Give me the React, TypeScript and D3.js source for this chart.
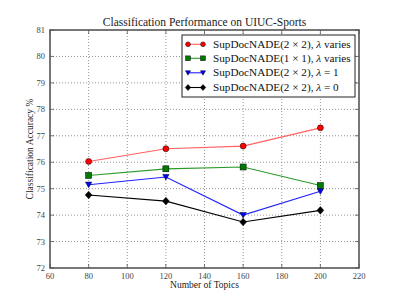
import React from "react";
import * as d3 from "d3";

const topics = [80, 120, 160, 200];
const redVals = [76.03, 76.51, 76.61, 77.3];
const greenVals = [75.5, 75.75, 75.82, 75.12];
const blueVals = [75.15, 75.44, 74.0, 74.9];
const blackVals = [74.76, 74.53, 73.74, 74.18];
const xTicks = [60, 80, 100, 120, 140, 160, 180, 200, 220];
const yTicks = [72, 73, 74, 75, 76, 77, 78, 79, 80, 81];
const legendLabels = [
  ["SupDocNADE", "(2 × 2), ", "λ", " varies"],
  ["SupDocNADE", "(1 × 1), ", "λ", " varies"],
  ["SupDocNADE", "(2 × 2), ", "λ", " = 1"],
  ["SupDocNADE", "(2 × 2), ", "λ", " = 0"],
];

const W = 399, H = 299;
const m = { l: 50, r: 359, t: 30, b: 268 };
const font = "'Liberation Serif', 'DejaVu Serif', serif";

export default function App() {
  const x = d3.scaleLinear().domain([60, 220]).range([m.l, m.r]);
  const y = d3.scaleLinear().domain([72, 81]).range([m.b, m.t]);
  const line = d3.line<number>().x((_, i) => x(topics[i])).y((d) => y(d));

  const series = [
    { vals: redVals, color: "#ff0000", stroke: "#ff6060", marker: "circle" },
    { vals: greenVals, color: "#007a00", stroke: "#2a9a2a", marker: "square" },
    { vals: blueVals, color: "#0000ff", stroke: "#2020ff", marker: "tri" },
    { vals: blackVals, color: "#000000", stroke: "#000000", marker: "diamond" },
  ];

  const marker = (kind: string, cx: number, cy: number, color: string, key: any, s = 1) => {
    const ec = "#000";
    if (kind === "circle") return <circle key={key} cx={cx} cy={cy} r={3 * s} fill={color} stroke={ec} strokeWidth={0.5} />;
    if (kind === "square") return <rect key={key} x={cx - 3 * s} y={cy - 3 * s} width={6 * s} height={6 * s} fill={color} stroke={ec} strokeWidth={0.5} />;
    if (kind === "tri") return <path key={key} d={`M${cx - 3.2 * s},${cy - 2.6 * s}L${cx + 3.2 * s},${cy - 2.6 * s}L${cx},${cy + 3 * s}Z`} fill={color} stroke={ec} strokeWidth={0.5} />;
    return <path key={key} d={`M${cx},${cy - 3.8 * s}L${cx + 3.4 * s},${cy}L${cx},${cy + 3.8 * s}L${cx - 3.4 * s},${cy}Z`} fill={color} stroke={ec} strokeWidth={0.5} />;
  };

  const legY = [44.3, 58.3, 72.8, 87.5];

  return (
    <svg width={W} height={H} style={{ position: "absolute", left: 0, top: 0, background: "#fff" }} fontFamily={font}>
      <rect width={W} height={H} fill="#fff" />
      {xTicks.slice(1, -1).map((t) => (
        <line key={"gx" + t} x1={x(t)} x2={x(t)} y1={m.t} y2={m.b} stroke="#777" strokeWidth={0.8} strokeDasharray="1,2" />
      ))}
      {yTicks.slice(1, -1).map((t) => (
        <line key={"gy" + t} x1={m.l} x2={m.r} y1={y(t)} y2={y(t)} stroke="#777" strokeWidth={0.8} strokeDasharray="1,2" />
      ))}
      {xTicks.map((t) => (
        <g key={"tx" + t}>
          <line x1={x(t)} x2={x(t)} y1={m.b} y2={m.b - 4} stroke="#555" strokeWidth={0.8} />
          <line x1={x(t)} x2={x(t)} y1={m.t} y2={m.t + 4} stroke="#555" strokeWidth={0.8} />
        </g>
      ))}
      {yTicks.map((t) => (
        <g key={"ty" + t}>
          <line x1={m.l} x2={m.l + 4} y1={y(t)} y2={y(t)} stroke="#555" strokeWidth={0.8} />
          <line x1={m.r} x2={m.r - 4} y1={y(t)} y2={y(t)} stroke="#555" strokeWidth={0.8} />
        </g>
      ))}
      {series.map((s, si) => (
        <g key={"s" + si}>
          <path d={line(s.vals) || ""} fill="none" stroke={s.stroke} strokeWidth={1.1} />
          {s.vals.map((v, i) => marker(s.marker, x(topics[i]), y(v), s.color, i))}
        </g>
      ))}
      <rect x={m.l} y={m.t} width={m.r - m.l} height={m.b - m.t} fill="none" stroke="#555" strokeWidth={1.6} />
      {xTicks.map((t) => (
        <text key={"lx" + t} x={x(t)} y={m.b + 11} textAnchor="middle" fontSize={8.5} fill="#444">{t}</text>
      ))}
      {yTicks.map((t) => (
        <text key={"ly" + t} x={m.l - 5} y={y(t) + 3} textAnchor="end" fontSize={8.5} fill="#444">{t}</text>
      ))}
      <text x={(m.l + m.r) / 2} y={26} textAnchor="middle" fontSize={11.5} fill="#222">Classification Performance on UIUC-Sports</text>
      <text x={(m.l + m.r) / 2} y={288} textAnchor="middle" fontSize={9.5} fill="#222">Number of Topics</text>
      <text transform={`translate(33,${(m.t + m.b) / 2}) rotate(-90)`} textAnchor="middle" fontSize={9.5} fill="#222">Classification Accuracy %</text>
      <rect x={182} y={35} width={173} height={62} fill="#fff" stroke="#222" strokeWidth={1} />
      {series.map((s, i) => (
        <g key={"lg" + i}>
          <line x1={188} x2={203} y1={legY[i]} y2={legY[i]} stroke={s.stroke} strokeWidth={1.1} />
          {marker(s.marker, 188, legY[i], s.color, "a", 0.8)}
          {marker(s.marker, 203, legY[i], s.color, "b", 0.8)}
          <text x={213} y={legY[i] + 3.5} fontSize={11.2} fill="#111">
            <tspan>{legendLabels[i][0]}</tspan>
            <tspan>{legendLabels[i][1]}</tspan>
            <tspan fontStyle="italic">{legendLabels[i][2]}</tspan>
            <tspan>{legendLabels[i][3]}</tspan>
          </text>
        </g>
      ))}
    </svg>
  );
}
